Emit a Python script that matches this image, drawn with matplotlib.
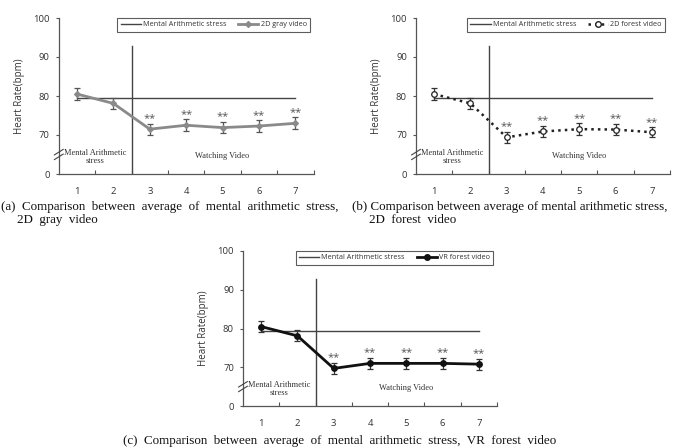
import matplotlib
matplotlib.use("Agg")
import matplotlib.pyplot as plt
from matplotlib.lines import Line2D
import numpy as np

# ---- data ----
stages = [1, 2, 3, 4, 5, 6, 7]
stress_level = 79.4
gray_hr = [80.5, 78.1, 71.5, 72.5, 71.9, 72.3, 73.0]
gray_err = [1.5, 1.5, 1.4, 1.5, 1.5, 1.5, 1.5]
forest2d_hr = [80.5, 78.1, 69.4, 70.9, 71.5, 71.4, 70.7]
forest2d_err = [1.5, 1.4, 1.4, 1.4, 1.5, 1.4, 1.3]
vr_hr = [80.5, 78.1, 69.7, 71.0, 71.0, 71.0, 70.8]
vr_err = [1.4, 1.4, 1.5, 1.5, 1.5, 1.5, 1.4]
ytick_vals = [0, 70, 80, 90, 100]
star_stages = [3, 4, 5, 6, 7]

W, H = 684, 447
fig = plt.figure(figsize=(W / 100, H / 100), dpi=100)

SANS = ['Open Sans', 'DejaVu Sans']
SERIF = ['Liberation Serif', 'DejaVu Serif']


def t(v):
    v = np.asarray(v, dtype=float)
    return np.where(v >= 60, v - 60, v)


def make_panel(left, right, top, bottom, hr, err, style, label, legend_right):
    ax = fig.add_axes([left / W, 1 - bottom / H, (right - left) / W, (bottom - top) / H])
    ax.set_xlim(0.5, 7.5)
    ax.set_ylim(0, 40)
    for s in ['top', 'right']:
        ax.spines[s].set_visible(False)
    for s in ['left', 'bottom']:
        ax.spines[s].set_color('#555555')
        ax.spines[s].set_linewidth(0.9)
    ax.set_yticks(t(ytick_vals))
    ax.set_yticklabels([str(v) for v in ytick_vals], family=SANS, fontsize=6.8)
    ax.tick_params(axis='y', direction='out', length=2.5, width=0.8, colors='#555555',
                   labelcolor='#333333', pad=4)
    ax.set_xticks(stages)
    ax.set_xticklabels([str(s) for s in stages], family=SANS, fontsize=6.8, color='#333333')
    ax.tick_params(axis='x', length=0, pad=9)
    ax.set_xticks(np.arange(1.5, 8, 1), minor=True)
    ax.tick_params(axis='x', which='minor', direction='in', length=3, width=0.8, colors='#555555')
    ax.set_ylabel('Heart Rate(bpm)', family=SANS, fontsize=7, color='#333333', labelpad=6)

    # axis break mark
    for dy in (-0.6, 0.6):
        ax.plot([0.38, 0.62], [5.0 + dy - 0.7, 5.0 + dy + 0.7], color='#444444', lw=0.8,
                clip_on=False, zorder=5)

    # stress reference line
    ax.plot([1, 7], t([stress_level, stress_level]), color='#444444', lw=1.0, zorder=2)
    # stage separation
    ax.plot([2.5, 2.5], [0, t(92.7)], color='#444444', lw=1.0, zorder=2)

    yv = t(hr)
    ax.errorbar(stages, yv, yerr=err, ecolor=style['ecolor'], elinewidth=0.9, capsize=2.5,
                capthick=0.9, fmt='none', zorder=3)
    ax.plot(stages, yv, color=style['color'], lw=style['lw'], ls=style['ls'],
            marker=style['marker'], ms=style['ms'], mfc=style['mfc'], mec=style['mec'],
            mew=0.9, zorder=4)

    for s in star_stages:
        ax.text(s, yv[s - 1] + err[s - 1] + 1.3, '**', ha='center', va='center',
                family=SANS, fontsize=8, color='#555555')

    ax.text(1.5, 4.4, 'Mental Arithmetic\nstress', ha='center', va='center', family=SERIF,
            fontsize=6, color='#333333', linespacing=1.0)
    ax.text(5.0, 4.7, 'Watching Video', ha='center', va='center', family=SERIF,
            fontsize=6, color='#333333')

    handles = [Line2D([], [], color='#444444', lw=1.0),
               Line2D([], [], color=style['color'], lw=style['lw'], ls=style['ls'],
                      marker=style['marker'], ms=style['ms'], mfc=style['mfc'],
                      mec=style['mec'])]
    leg = ax.legend(handles, ['Mental Arithmetic stress', label], ncol=2,
                    loc='upper right', bbox_to_anchor=(legend_right, 1.0), borderaxespad=0,
                    frameon=True, fancybox=False, edgecolor='#333333',
                    prop={'family': SANS, 'size': 5.2}, handlelength=2.8,
                    columnspacing=1.6, handletextpad=0.3, borderpad=0.45)
    leg.get_frame().set_linewidth(0.8)
    for txt in leg.get_texts():
        txt.set_color('#333333')
    return ax


gray_style = dict(color='#8a8a8a', lw=2.0, ls='-', marker='D', ms=3, mfc='#8a8a8a',
                  mec='#8a8a8a', ecolor='#555555')
forest_style = dict(color='#222222', lw=1.8, ls=':', marker='o', ms=4, mfc='white',
                    mec='#222222', ecolor='#333333')
vr_style = dict(color='#111111', lw=2.0, ls='-', marker='o', ms=4, mfc='#111111',
                mec='#111111', ecolor='#333333')

make_panel(58.8, 313.5, 18, 174, gray_hr, gray_err, gray_style, '2D gray video', 0.986)
make_panel(416, 670, 18, 174, forest2d_hr, forest2d_err, forest_style, '2D forest video', 0.98)
make_panel(243, 497, 251, 406, vr_hr, vr_err, vr_style, 'VR forest video', 0.985)

cap_kw = dict(family=SERIF, fontsize=9.4, color='#111111', va='center', ha='left')
fig.text(1 / W, 1 - 207 / H, '(a)  Comparison  between  average  of  mental  arithmetic  stress,', **cap_kw)
fig.text(17 / W, 1 - 220 / H, '2D  gray  video', **cap_kw)
fig.text(352 / W, 1 - 207 / H, '(b) Comparison between average of mental arithmetic stress,', **cap_kw)
fig.text(369 / W, 1 - 220 / H, '2D  forest  video', **cap_kw)
fig.text(123 / W, 1 - 441 / H, '(c)  Comparison  between  average  of  mental  arithmetic  stress,  VR  forest  video', **cap_kw)

fig.savefig('out.png', dpi=100, facecolor='white')
